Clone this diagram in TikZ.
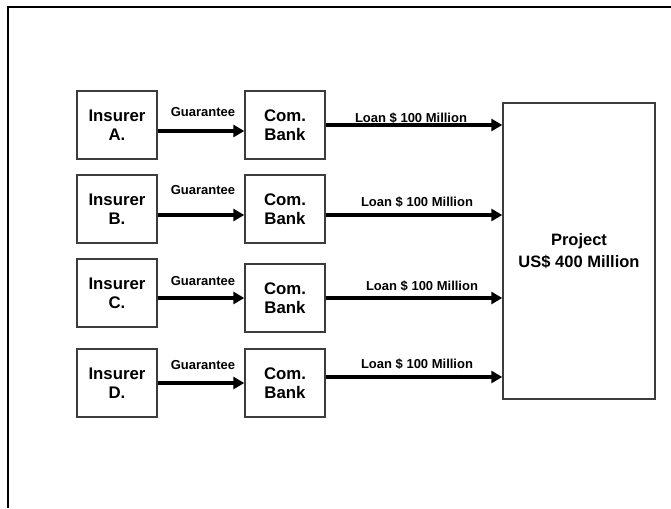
\documentclass[tikz,border=0pt]{standalone}
\usepackage{fontspec}
\setmainfont{Liberation Sans}
\usetikzlibrary{arrows.meta,positioning}
\definecolor{boxline}{HTML}{3C3C3C}

\tikzset{
  party/.style={draw=boxline,line width=1.4pt,minimum width=80pt,minimum height=68pt,
    align=center,font=\fontsize{16.8}{19}\selectfont\bfseries,inner sep=0pt},
  flow/.style={line width=3.2pt,-{Triangle[length=11pt,width=12pt]}},
  flowlabel/.style={font=\fontsize{13}{14}\selectfont\bfseries,inner sep=0pt}
}

\begin{document}
\begin{tikzpicture}[x=1pt,y=-1pt]
\useasboundingbox (0,0) rectangle (671,508);
\draw[line width=2.4pt] (8,508) -- (8,7) -- (671,7);
% insurers and banks
\node[party] (insA) at (117,125) {Insurer\\A.};
\node[party] (insB) at (117,209) {Insurer\\B.};
\node[party] (insC) at (117,293) {Insurer\\C.};
\node[party] (insD) at (117,383) {Insurer\\D.};
\node[party] (bankA) at (285,125) {Com.\\Bank};
\node[party] (bankB) at (285,209) {Com.\\Bank};
\node[party] (bankC) at (285,298) {Com.\\Bank};
\node[party] (bankD) at (285,383) {Com.\\Bank};
\node[party,minimum width=152pt,minimum height=296pt,font=\fontsize{16.5}{22}\selectfont\bfseries] (project) at (579,251) {Project\\US\$ 400 Million};
% guarantees
\draw[flow] ([yshift=-6pt]insA.east) -- ([yshift=-6pt]bankA.west);
\draw[flow] ([yshift=-6pt]insB.east) -- ([yshift=-6pt]bankB.west);
\draw[flow] (insC.east |- bankC.west) -- (bankC.west);
\draw[flow] (insD.east) -- (bankD.west);
\node[flowlabel] (gA) at (203,112) {Guarantee};
\node[flowlabel] (gB) at (203,190) {Guarantee};
\node[flowlabel] (gC) at (203,281) {Guarantee};
\node[flowlabel] (gD) at (203,365) {Guarantee};
% loans
\draw[flow] (bankA.east) -- (bankA.east -| project.west);
\draw[flow] ([yshift=-6pt]bankB.east) -- ([yshift=-6pt]bankB.east -| project.west);
\draw[flow] (bankC.east) -- (bankC.east -| project.west);
\draw[flow] ([yshift=6pt]bankD.east) -- ([yshift=6pt]bankD.east -| project.west);
\node[flowlabel] (lA) at (411,118) {Loan \$ 100 Million};
\node[flowlabel] (lB) at (417,202) {Loan \$ 100 Million};
\node[flowlabel] (lC) at (422,286) {Loan \$ 100 Million};
\node[flowlabel] (lD) at (417,364) {Loan \$ 100 Million};
\end{tikzpicture}
\end{document}
